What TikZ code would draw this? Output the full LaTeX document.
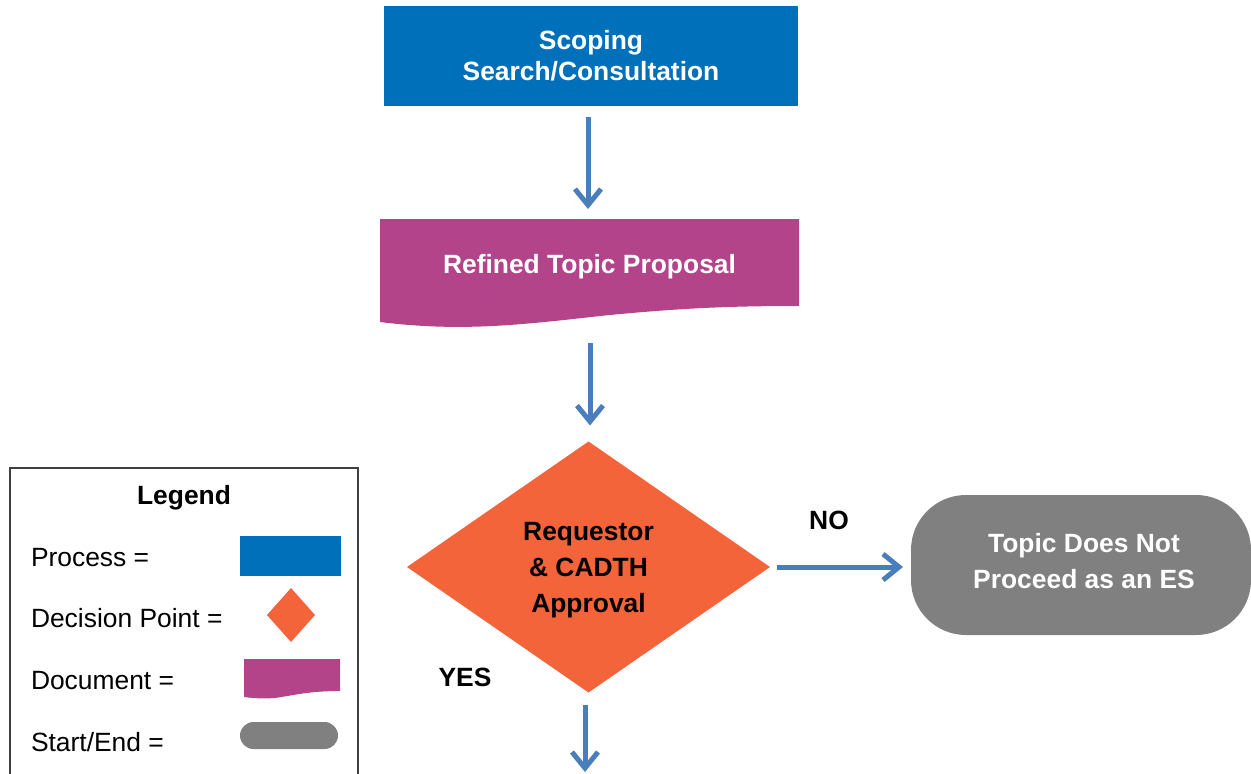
\documentclass[tikz,border=0pt]{standalone}
\usepackage{fontspec}
\setmainfont{Liberation Sans}
\usetikzlibrary{shapes.geometric,arrows.meta}
\definecolor{procblue}{HTML}{0070BA}
\definecolor{docmag}{HTML}{B3448A}
\definecolor{decorange}{HTML}{F4643B}
\definecolor{stopgray}{HTML}{808080}
\definecolor{flowblue}{HTML}{4A7EBB}
\definecolor{framegray}{HTML}{404040}
\begin{document}
\begin{tikzpicture}[x=1pt,y=-1pt,
  every node/.style={inner sep=0pt, outer sep=0pt},
  bigbold/.style={font=\bfseries\fontsize{26.4}{31}\selectfont, align=center},
  tallbold/.style={font=\bfseries\fontsize{26.4}{36}\selectfont, align=center},
  procbox/.style={rectangle, fill=procblue, text=white, bigbold,
    minimum width=414pt, minimum height=100pt},
  docbox/.style={rectangle, text=white, bigbold,
    minimum width=419pt, minimum height=92pt},
  decbox/.style={diamond, fill=decorange, aspect=1.45,
    minimum width=363pt, minimum height=251pt},
  stopbox/.style={rectangle, rounded corners=55pt, fill=stopgray,
    minimum width=340pt, minimum height=140pt},
  flow/.style={draw=flowblue, line width=5pt,
    -{Straight Barb[length=16pt,width=26pt]}},
  answer/.style={font=\bfseries\fontsize{26.4}{31}\selectfont, text=black,
    text height=18.6pt, text depth=0pt},
  legtext/.style={font=\fontsize{26.4}{31}\selectfont, text=black, anchor=west,
    text height=18.6pt, text depth=0pt}]
\useasboundingbox (0,0) rectangle (1251,774);

% process step
\node[procbox] (proc) at (591,56) {Scoping\\Search/Consultation};

% document shape with wavy bottom edge
\fill[docmag] (380,219) -- (799,219) -- (799,306)
  .. controls (730,306) and (680,308) .. (600,316)
  .. controls (520,325) and (460,332) .. (380,322) -- cycle;
\node[docbox] (doc) at (589.5,267) {Refined Topic Proposal};

% decision
\node[decbox] (dec) at (588.5,567) {};
\node[tallbold, text=black] (dectext) at (588.5,570) {Requestor\\\& CADTH\\Approval};

% end point
\node[stopbox] (stop) at (1081,565) {};
\node[tallbold, text=white] (stoptext) at (1084,561) {Topic Does Not\\Proceed as an ES};

% connectors
\draw[flow, shorten <=11pt, shorten >=12pt] (proc.south -| 588,0) -- (doc.north -| 588,0);
\draw[flow, shorten <=30pt, shorten >=16pt] (doc.south -| 590,0) -- (dec.north -| 590,0);
\draw[flow, shorten <=7pt, shorten >=8pt] (dec.east) -- (dec.east -| stop.west);
\coordinate (next) at (585,772);
\draw[flow, shorten <=12pt] (dec.south -| next) -- (next);

\node[answer] (no) at (829,520) {NO};
\node[answer] (yes) at (465,677) {YES};

% legend
\draw[framegray, line width=1.5pt] (10,774) -- (10,468) -- (358,468) -- (358,774);
\node[answer] (legtitle) at (184,495) {Legend};
\node[legtext] (lproc) at (31,557) {Process =};
\node[legtext] (ldec) at (31,618) {Decision Point =};
\node[legtext] (ldoc) at (31,680) {Document =};
\node[legtext] (lstop) at (31,742) {Start/End =};
\fill[procblue] (240,536) rectangle (341,576);
\fill[decorange] (291,588) -- (315,615) -- (291,642) -- (267,615) -- cycle;
\fill[docmag] (244,659) -- (340,659) -- (340,691)
  .. controls (310,691) and (295,695) .. (275,698)
  .. controls (262,699) and (252,698) .. (244,697) -- cycle;
\fill[stopgray, rounded corners=13.5pt] (240,722) rectangle (338,749);
\end{tikzpicture}
\end{document}
